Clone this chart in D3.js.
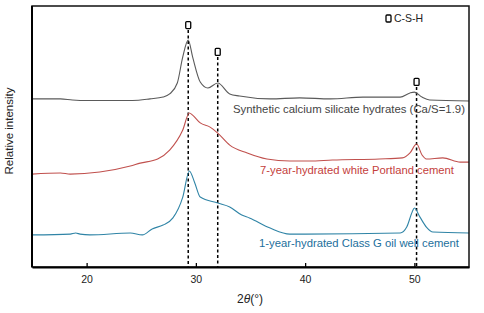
<!DOCTYPE html>
<html>
<head>
<meta charset="utf-8">
<script src="https://cdn.jsdelivr.net/npm/d3@7"></script>
<style>
  body { margin: 0; background: #fff; }
  text { font-family: "Liberation Sans", Arial, sans-serif; }
</style>
</head>
<body>
<div id="xrd"></div>
<script>
// 2-theta (deg) vs relative intensity (arbitrary units, offset spectra)
const cshSynthetic = [[15,64.4],[17.6,64.4],[18.7,64.0],[20,63.8],[24.2,63.8],[25.8,64.4],[27.0,65.1],[27.6,66.3],[28.3,70.5],[28.8,80.5],[29.3,87.0],[29.7,80.5],[30.4,70.9],[31.1,68.6],[32.0,70.5],[33.1,66.3],[34.0,65.5],[36.8,64.4],[39.5,64.8],[42.3,64.4],[45.3,65.1],[48.7,65.1],[49.6,66.7],[50.0,67.0],[50.7,65.1],[51.4,64.0],[55,63.6]];
const whitePortland = [[15,35.6],[17.6,36.0],[18.5,35.6],[21.2,36.4],[24,38.7],[24.9,39.8],[26.5,41.4],[27.6,44.8],[28.8,52.5],[29.4,59.0],[29.7,58.2],[30.4,55.2],[31.3,53.6],[32.0,51.3],[33.1,46.7],[34.7,43.7],[36.5,41.4],[38.6,40.6],[40.4,40.6],[42.5,41.0],[46.8,41.4],[48.9,41.8],[49.6,43.7],[50.2,47.1],[50.7,42.9],[51.1,41.4],[52.6,41.8],[54.2,40.2],[55,40.2]];
const classG = [[15,12.3],[18.5,12.6],[19,13.0],[19.4,12.6],[20.3,12.3],[24,13.0],[25.1,12.3],[26.0,14.6],[27.0,16.1],[27.9,18.8],[28.8,26.8],[29.4,36.8],[29.9,32.2],[30.4,26.8],[32.0,24.5],[33.1,23.0],[34.2,19.9],[34.9,18.8],[36.8,14.9],[38.6,12.6],[40,12.6],[48.7,13.0],[49.3,15.3],[49.8,21.1],[50.0,22.6],[50.5,19.2],[51.1,15.3],[51.7,13.4],[55,13.0]];

const seriesNames = ["Synthetic calcium silicate hydrates (Ca/S=1.9)", "7-year-hydrated white Portland cement", "1-year-hydrated Class G oil well cement"];
// C-S-H peak positions (2theta) and marker heights
const peaks = [[29.3, 92.7], [32.0, 82.4], [50.2, 70.9]];
const xTicks = [20, 30, 40, 50];

const width = 484, height = 313;
const margin = {top: 6, right: 15, bottom: 46, left: 32};

const svg = d3.select("#xrd").append("svg")
    .attr("width", width)
    .attr("height", height);

const x = d3.scaleLinear().domain([15, 55]).range([margin.left, width - margin.right]);
const y = d3.scaleLinear().domain([0, 100]).range([height - margin.bottom, margin.top]);

const line = d3.line().x(d => x(d[0])).y(d => y(d[1])).curve(d3.curveMonotoneX);

// dashed peak lines + markers
peaks.forEach(p => {
    svg.append("line")
        .attr("x1", x(p[0])).attr("x2", x(p[0]))
        .attr("y1", y(p[1]) + 5).attr("y2", y(0))
        .attr("stroke", "#000")
        .attr("stroke-width", 1.5)
        .attr("stroke-dasharray", "3,2.5");
    svg.append("rect")
        .attr("x", x(p[0]) - 2.5).attr("y", y(p[1]) - 3.5)
        .attr("width", 5).attr("height", 7)
        .attr("rx", 1)
        .attr("fill", "#fff")
        .attr("stroke", "#000")
        .attr("stroke-width", 1.3);
});

const colors = ["#5a5a5a", "#c0504d", "#2f84a6"];
const textColors = ["#444", "#c4403c", "#1c6f9c"];
[cshSynthetic, whitePortland, classG].forEach((s, i) => {
    svg.append("path")
        .datum(s)
        .attr("d", line)
        .attr("fill", "none")
        .attr("stroke", colors[i])
        .attr("stroke-width", 1.1);
});

// series labels
const labelPos = [[233, 113, 232], [260, 174, 194], [259, 247, 200]];
seriesNames.forEach((n, i) => {
    svg.append("text")
        .attr("x", labelPos[i][0])
        .attr("y", labelPos[i][1])
        .attr("textLength", labelPos[i][2])
        .attr("lengthAdjust", "spacingAndGlyphs")
        .attr("font-size", 11)
        .attr("fill", textColors[i])
        .text(n);
});

// frame
svg.append("rect")
    .attr("x", margin.left).attr("y", margin.top)
    .attr("width", width - margin.left - margin.right)
    .attr("height", height - margin.top - margin.bottom)
    .attr("fill", "none")
    .attr("stroke", "#111")
    .attr("stroke-width", 1.5);

const xAxis = svg.append("g")
    .attr("transform", `translate(0,${height - margin.bottom})`)
    .call(d3.axisBottom(x).tickValues(xTicks).tickSizeInner(-4).tickSizeOuter(0).tickPadding(9));
xAxis.select(".domain").attr("stroke-width", 2);
xAxis.selectAll(".tick line").attr("stroke-width", 1.3);
xAxis.selectAll("text")
    .attr("font-size", 10.5)
    .attr("font-family", "Liberation Sans, Arial, sans-serif")
    .attr("fill", "#222");

svg.append("line")
    .attr("x1", margin.left).attr("x2", margin.left)
    .attr("y1", margin.top).attr("y2", height - margin.bottom)
    .attr("stroke", "#000").attr("stroke-width", 2);

// axis titles
const xt = svg.append("text")
    .attr("x", 250).attr("y", 303)
    .attr("text-anchor", "middle")
    .attr("font-size", 12)
    .attr("fill", "#222");
xt.append("tspan").text("2");
xt.append("tspan").attr("font-style", "italic").text("θ");
xt.append("tspan").text("(°)");

svg.append("text")
    .attr("transform", "translate(13,131) rotate(-90)")
    .attr("text-anchor", "middle")
    .attr("font-size", 11.5)
    .attr("fill", "#222")
    .text("Relative intensity");

// legend
svg.append("rect")
    .attr("x", 386).attr("y", 15)
    .attr("width", 5).attr("height", 7)
    .attr("rx", 1)
    .attr("fill", "#fff")
    .attr("stroke", "#000")
    .attr("stroke-width", 1.3);
svg.append("text")
    .attr("x", 394).attr("y", 22)
    .attr("font-size", 10.5)
    .attr("fill", "#222")
    .text("C-S-H");
</script>
</body>
</html>
